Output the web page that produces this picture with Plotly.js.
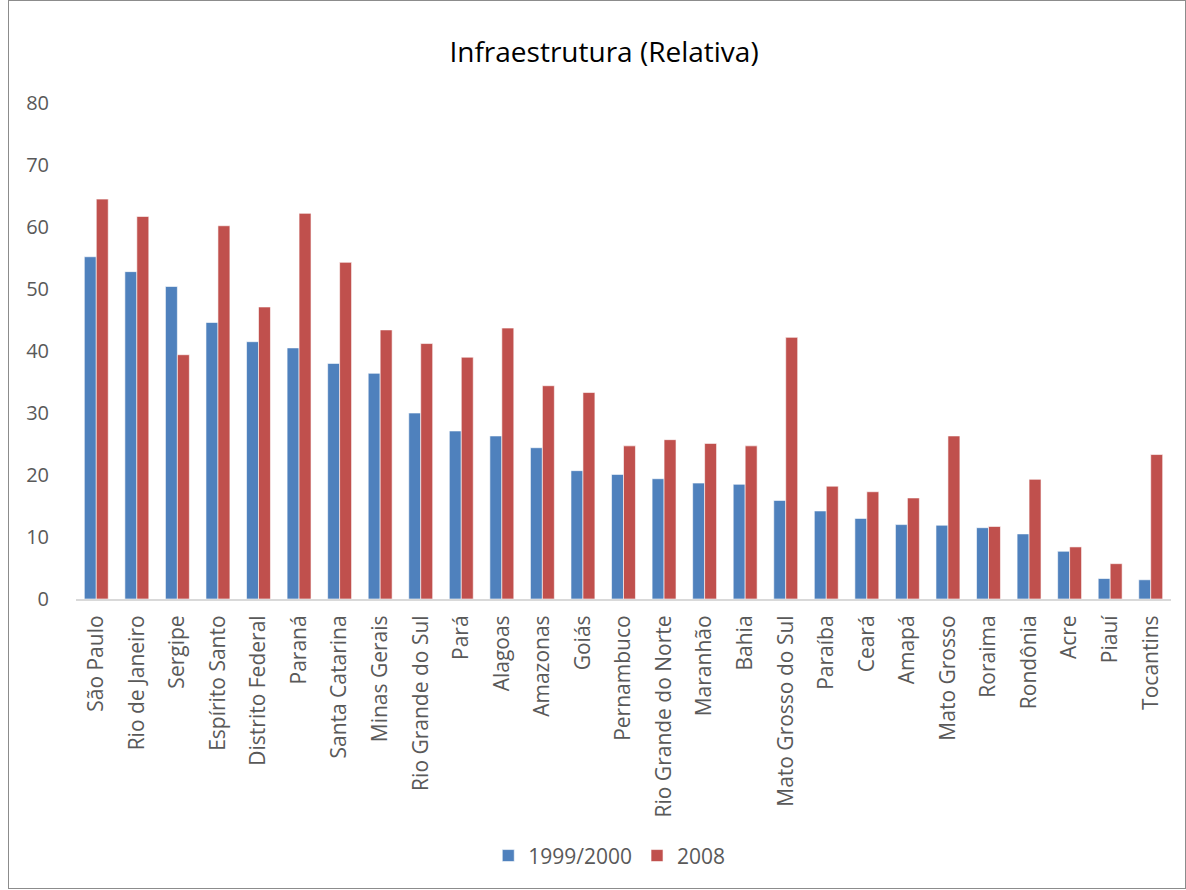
<!DOCTYPE html>
<html>
<head>
<meta charset="utf-8">
<script src="https://cdn.plot.ly/plotly-3.0.1.min.js"></script>
<style>
  html, body { margin: 0; padding: 0; background: #fff; }
  #frame { position: absolute; left: 8px; top: 0px; width: 1176px; height: 887px; border: 1px solid #8c8c8c; }
  #chart { width: 1176px; height: 887px; }
</style>
</head>
<body>
<div id="frame"><div id="chart"></div></div>
<script>
// Estados brasileiros, ordenados pelo índice de 1999/2000
const estados = ["São Paulo", "Rio de Janeiro", "Sergipe", "Espírito Santo", "Distrito Federal",
  "Paraná", "Santa Catarina", "Minas Gerais", "Rio Grande do Sul", "Pará", "Alagoas", "Amazonas",
  "Goiás", "Pernambuco", "Rio Grande do Norte", "Maranhão", "Bahia", "Mato Grosso do Sul",
  "Paraíba", "Ceará", "Amapá", "Mato Grosso", "Roraima", "Rondônia", "Acre", "Piauí", "Tocantins"];

const valores1999 = [55.2, 52.8, 50.4, 44.6, 41.5, 40.5, 38.0, 36.4, 30.0, 27.1, 26.3, 24.4,
  20.7, 20.1, 19.4, 18.7, 18.5, 15.9, 14.2, 13.0, 12.0, 11.9, 11.5, 10.5, 7.7, 3.3, 3.1];

const valores2008 = [64.5, 61.7, 39.4, 60.2, 47.1, 62.2, 54.3, 43.4, 41.2, 39.0, 43.7, 34.4,
  33.3, 24.7, 25.7, 25.1, 24.7, 42.2, 18.2, 17.3, 16.3, 26.3, 11.7, 19.3, 8.4, 5.7, 23.3];

const yTicks = [0, 10, 20, 30, 40, 50, 60, 70, 80];

const fonte = "'Open Sans', Lato, sans-serif";
const barLine = { color: "rgba(255,255,255,0.6)", width: 1 };

const traces = [
  { type: "bar", name: "1999/2000", x: estados, y: valores1999,
    marker: { color: "#4F81BD", line: barLine } },
  { type: "bar", name: "2008", x: estados, y: valores2008,
    marker: { color: "#C0504D", line: barLine } }
];

const layout = {
  width: 1176, height: 887,
  margin: { l: 67, r: 14, t: 102, b: 287 },
  paper_bgcolor: "#fff", plot_bgcolor: "#fff",
  font: { family: fonte, color: "#595959", size: 21 },
  title: { text: "Infraestrutura (Relativa)", x: 0.506, xanchor: "center", y: 0.942, yanchor: "middle",
    font: { family: fonte, size: 28, color: "#000" } },
  barmode: "group",
  bargap: 0.41,
  bargroupgap: 0,
  showlegend: true,
  legend: { orientation: "h", x: 0.487, xanchor: "center", y: -0.518, yanchor: "middle",
    font: { family: fonte, size: 21, color: "#595959" }, itemwidth: 30, tracegroupgap: 0 },
  xaxis: {
    type: "category", tickangle: -90, showgrid: false, zeroline: false,
    showline: true, linecolor: "#D9D9D9", linewidth: 2, ticks: "",
    tickfont: { family: fonte, size: 21, color: "#595959" }, ticklabelstandoff: 6
  },
  yaxis: {
    range: [0, 80], tickvals: yTicks, ticktext: yTicks.map(String),
    showgrid: false, zeroline: false, showline: false, ticks: "",
    tickfont: { family: fonte, size: 20, color: "#595959" }, ticklabelstandoff: 26
  }
};

Plotly.newPlot("chart", traces, layout, { displayModeBar: false, staticPlot: true });
</script>
</body>
</html>
